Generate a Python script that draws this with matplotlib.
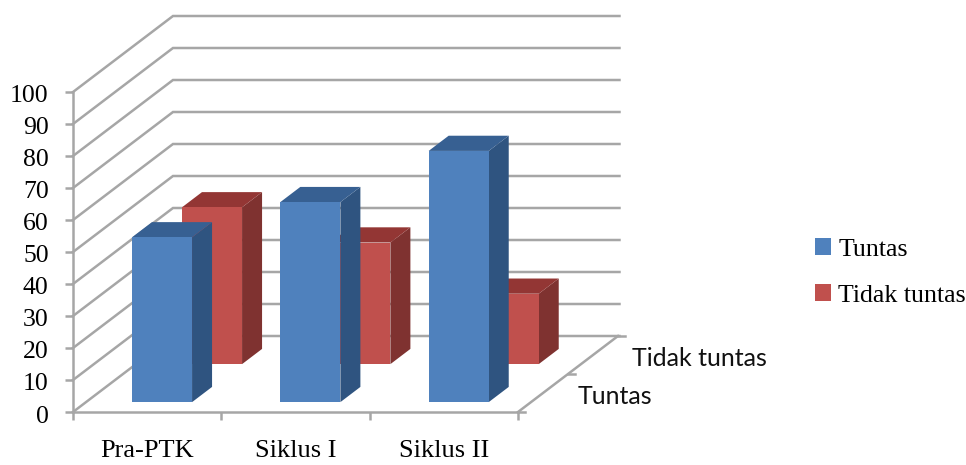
import numpy as np
from matplotlib import pyplot as plt
from matplotlib.patches import Polygon, Patch
from matplotlib.transforms import ScaledTranslation

categories = ['Pra-PTK', 'Siklus I', 'Siklus II']
tuntas = [51.5, 62.5, 78.5]
tidak_tuntas = [49, 38, 22]
series_names = ['Tuntas', 'Tidak tuntas']

grid_color = '#a6a6a6'
serif = 'Liberation Serif'

# how far the back of the floor is shifted, in data units of the front plane
depth_x = 100 / (445 / 3)
depth_y = 76 / 3.2

bar_left = 0.31
bar_width = 0.405


def project(x, v, d):
  return (x + d * depth_x, v + d * depth_y)


def draw_bar(ax, x, value, d0, d1, front, top, side):
  x0, x1 = x + bar_left, x + bar_left + bar_width
  ax.add_patch(Polygon([project(x1, 0, d0), project(x1, 0, d1), project(x1, value, d1), project(x1, value, d0)],
                       fc=side, ec='none', clip_on=False, zorder=3))
  ax.add_patch(Polygon([project(x0, value, d0), project(x1, value, d0), project(x1, value, d1), project(x0, value, d1)],
                       fc=top, ec='none', clip_on=False, zorder=3))
  ax.add_patch(Polygon([project(x0, 0, d0), project(x1, 0, d0), project(x1, value, d0), project(x0, value, d0)],
                       fc=front, ec='none', clip_on=False, zorder=3))


fig = plt.figure(figsize=(9.66, 4.65), dpi=100)
ax = fig.add_axes([73 / 966, (465 - 412) / 465, 445 / 966, 320 / 465])
ax.set_xlim(0, 3)
ax.set_ylim(0, 100)

# walls and floor
for v in range(0, 101, 10):
  pts = [project(0, v, 0), project(0, v, 1), project(3.01, v, 1)]
  ax.plot(*zip(*pts), color=grid_color, lw=1.8, clip_on=False, zorder=1, solid_joinstyle='miter')
pts = [project(3, 0, 0), project(3, 0, 1)]
ax.plot(*zip(*pts), color=grid_color, lw=1.8, clip_on=False, zorder=1)
for d in [0, 0.5, 1]:
  x, y = project(3, 0, d)
  ax.plot([x, x + 0.05], [y, y], color=grid_color, lw=1.8, clip_on=False, zorder=1)

for s in ['top', 'right']:
  ax.spines[s].set_visible(False)
for s in ['left', 'bottom']:
  ax.spines[s].set_color(grid_color)
  ax.spines[s].set_linewidth(1.8)

ax.set_yticks(range(0, 101, 10))
ax.set_xticks([0, 1, 2, 3])
ax.set_xticklabels([])
ax.set_xticks([0.5, 1.5, 2.5], minor=True)
ax.set_xticklabels(categories, minor=True, family=serif, fontsize=19)
ax.tick_params(axis='y', length=5.5, width=1.8, color=grid_color, labelsize=18.5, pad=12)
ax.tick_params(axis='x', which='major', length=5.5, width=1.8, color=grid_color)
ax.tick_params(axis='x', which='minor', length=0, pad=20)
# the numbers sit a little under their ticks
nudge = ScaledTranslation(0, -2 / 100, fig.dpi_scale_trans)
for t in ax.get_yticklabels():
  t.set_family(serif)
  t.set_transform(t.get_transform() + nudge)

# back row first so the front row covers it
for i in range(len(categories)):
  draw_bar(ax, i, tidak_tuntas[i], 0.63, 0.83, '#c0504d', '#933634', '#7f3230')
for i in range(len(categories)):
  draw_bar(ax, i, tuntas[i], 0.13, 0.33, '#4f81bd', '#376092', '#2f5480')

# depth axis labels
ax.annotate(series_names[0], project(3, 0, 0.25), xytext=(35, -3), textcoords='offset pixels',
            family='Lato', fontsize=18, ha='left', va='center', color='#111111', annotation_clip=False)
ax.annotate(series_names[1], project(3, 0, 0.75), xytext=(39, -3), textcoords='offset pixels',
            family='Lato', fontsize=18, ha='left', va='center', color='#111111', annotation_clip=False)

handles = [Patch(fc='#4f81bd', ec='none'), Patch(fc='#c0504d', ec='none')]
fig.legend(handles, series_names, loc='center left', bbox_to_anchor=(805 / 966, 1 - 272.5 / 465), frameon=False,
           prop={'family': serif, 'size': 18.6}, handlelength=0.62, handleheight=0.62, handletextpad=0.27,
           labelspacing=0.9, borderaxespad=0)

fig.savefig('out.png', dpi=100)
